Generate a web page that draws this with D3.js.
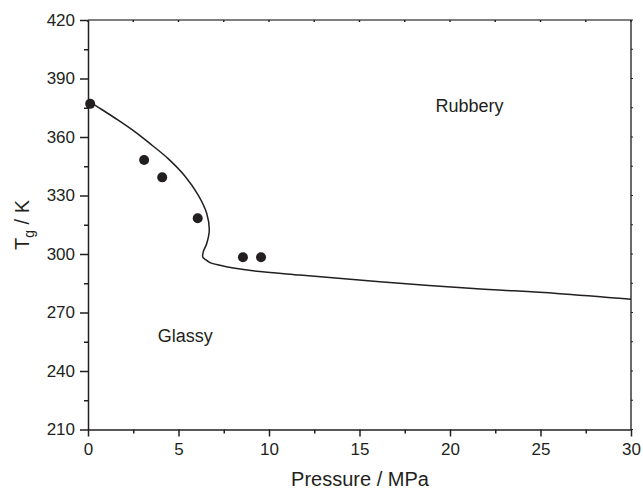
<!DOCTYPE html>
<html>
<head>
<meta charset="utf-8">
<script src="https://cdn.jsdelivr.net/npm/d3@7"></script>
<style>
  html, body { margin: 0; padding: 0; background: #fff; }
  svg { display: block; font-family: "Liberation Sans", Arial, sans-serif; }
</style>
</head>
<body>
<svg id="chart" width="643" height="490"></svg>
<script>
// Measured glass transition temperatures (pressure in MPa, Tg in K)
const expPressure = [0.12, 3.1, 4.1, 6.06, 8.56, 9.56];
const expTg       = [377.0, 348.2, 339.3, 318.3, 298.3, 298.3];

// Model prediction, ordered along the curve (it folds back near 6.5 MPa)
const modelPressure = [0.0, 0.76, 1.67, 2.6, 3.52, 4.44, 5.36, 6.09, 6.56, 6.70, 6.56, 6.37, 6.34, 6.5, 6.74, 7.29, 8.03, 9.0, 11.71, 16.13, 21.29, 25.9, 30.0];
const modelTg       = [378.5, 374.1, 368.6, 362.6, 355.9, 348.8, 339.9, 330.2, 320.8, 312.2, 305.4, 301.1, 298.5, 297.1, 295.6, 294.2, 292.8, 291.5, 289.2, 285.8, 282.3, 279.8, 276.8];

const xTicks = [0, 5, 10, 15, 20, 25, 30];
const yTicks = [210, 240, 270, 300, 330, 360, 390, 420];
const xMinor = d3.range(0, 30.01, 2.5);
const yMinor = d3.range(210, 420.01, 15);

const regionLabels = [
  { text: "Rubbery", p: 19.2, t: 372.6 },
  { text: "Glassy",  p: 3.85, t: 255.0 }
];

const ink = "#231f20";
const svg = d3.select("#chart");

const x = d3.scaleLinear().domain([0, 30]).range([88, 631]);
const y = d3.scaleLinear().domain([210, 420]).range([429.5, 20]);

// Top and right frame with small inward ticks
svg.append("line").attr("x1", x(0)).attr("x2", x(30)).attr("y1", y(420)).attr("y2", y(420))
  .attr("stroke", "#555").attr("stroke-width", 1.6);
svg.append("line").attr("x1", x(30)).attr("x2", x(30)).attr("y1", y(420)).attr("y2", y(210))
  .attr("stroke", "#444").attr("stroke-width", 1.6);
svg.append("g").selectAll("line").data(xMinor).join("line")
  .attr("x1", d => x(d)).attr("x2", d => x(d))
  .attr("y1", y(420)).attr("y2", y(420) + 2)
  .attr("stroke", ink).attr("stroke-width", 1.4);
svg.append("g").selectAll("line").data(yMinor).join("line")
  .attr("x1", x(30)).attr("x2", x(30) + 2)
  .attr("y1", d => y(d)).attr("y2", d => y(d))
  .attr("stroke", ink).attr("stroke-width", 1.2);

// Bottom axis
svg.append("g").attr("transform", `translate(0,${y(210)})`)
  .call(d3.axisBottom(x).tickValues(xTicks).tickFormat(d3.format("d")).tickSize(7).tickSizeOuter(0).tickPadding(6));
svg.append("g").attr("transform", `translate(0,${y(210)})`)
  .call(d3.axisBottom(x).tickValues(xMinor.filter(d => d % 5 !== 0)).tickFormat("").tickSize(4).tickSizeOuter(0))
  .call(g => g.select(".domain").remove());

// Left axis
svg.append("g").attr("transform", `translate(${x(0)},0)`)
  .call(d3.axisLeft(y).tickValues(yTicks).tickFormat(d3.format("d")).tickSize(8).tickSizeOuter(0).tickPadding(5));
svg.append("g").attr("transform", `translate(${x(0)},0)`)
  .call(d3.axisLeft(y).tickValues(yMinor.filter(d => d % 30 !== 0)).tickFormat("").tickSize(4).tickSizeOuter(0))
  .call(g => g.select(".domain").remove());

svg.selectAll(".domain, .tick line").attr("stroke", ink).attr("stroke-width", 1.5);
svg.selectAll(".tick text").attr("fill", ink).style("font-size", "17px")
  .style("font-family", "'Liberation Sans', Arial, sans-serif");

// Axis titles
svg.append("text").attr("x", 360).attr("y", 486).attr("text-anchor", "middle")
  .attr("fill", ink).style("font-size", "20px").text("Pressure / MPa");

const yt = svg.append("text").attr("transform", "translate(29,225) rotate(-90)")
  .attr("text-anchor", "middle").attr("fill", ink).style("font-size", "20px");
yt.append("tspan").text("T");
yt.append("tspan").attr("dy", 5).style("font-size", "14px").text("g");
yt.append("tspan").attr("dy", -5).text(" / K");

// Model curve
const curvePts = modelPressure.map((p, i) => [p, modelTg[i]]);
svg.append("path").datum(curvePts)
  .attr("fill", "none").attr("stroke", ink).attr("stroke-width", 1.5)
  .attr("d", d3.line().x(d => x(d[0])).y(d => y(d[1])).curve(d3.curveCatmullRom.alpha(0.5)));

// Experimental points
svg.append("g").selectAll("circle").data(expPressure.map((p, i) => [p, expTg[i]])).join("circle")
  .attr("cx", d => x(d[0])).attr("cy", d => y(d[1])).attr("r", 5).attr("fill", ink);

// Region labels
svg.append("g").selectAll("text").data(regionLabels).join("text")
  .attr("x", d => x(d.p)).attr("y", d => y(d.t))
  .attr("fill", ink).style("font-size", "18px").text(d => d.text);
</script>
</body>
</html>
